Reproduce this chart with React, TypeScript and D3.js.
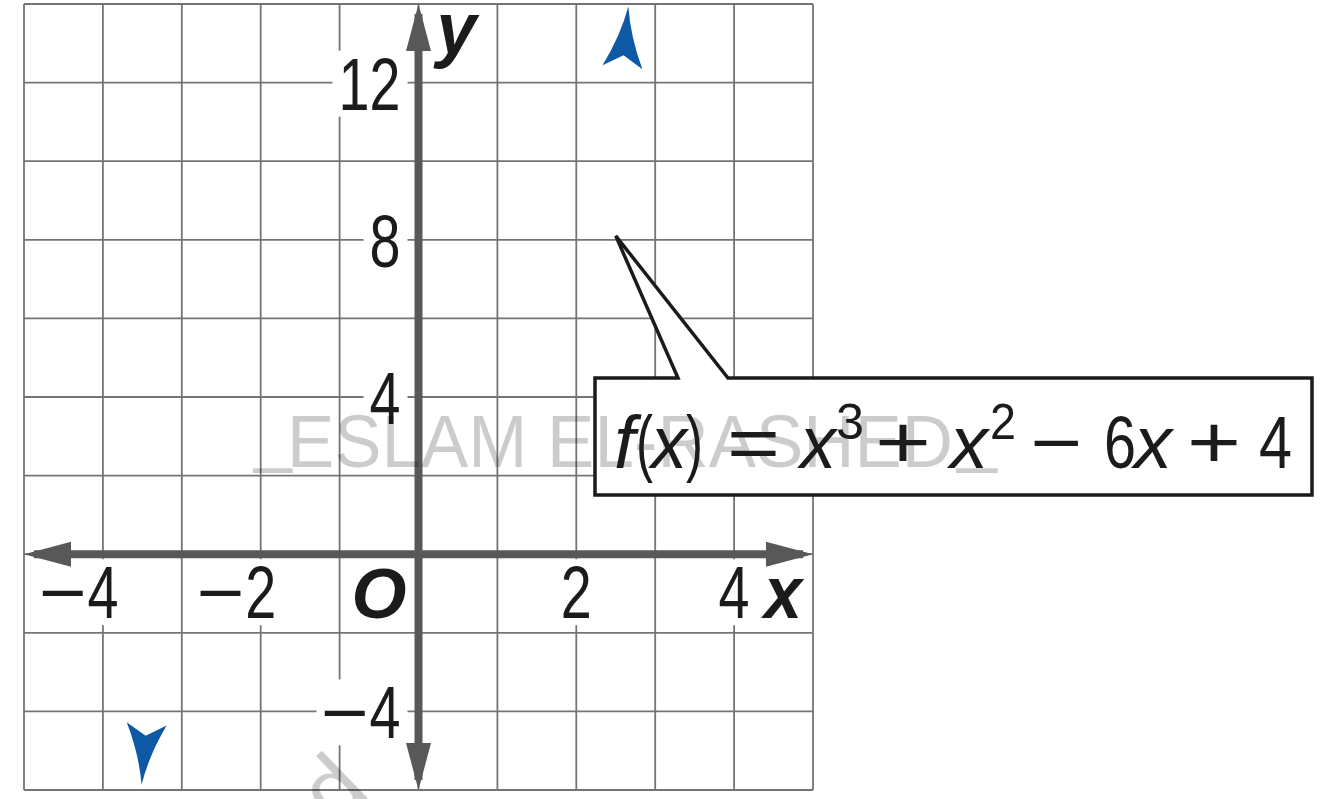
import React from 'react';
import * as d3 from 'd3';

// Canvas
const WIDTH = 1329;
const HEIGHT = 799;

// Coordinate plane
const X_DOMAIN: [number, number] = [-5, 5];
const Y_DOMAIN: [number, number] = [-6, 14];
const X_GRID_STEP = 1;
const Y_GRID_STEP = 2;
const X_TICK_LABELS = [-4, -2, 2, 4];
const Y_TICK_LABELS = [-4, 4, 8, 12];

// f(x) = x^3 + x^2 - 6x + 4 (highest power first)
const F_COEFFS = [1, 1, -6, 4];
// x-values where the end-behaviour arrowheads sit on the curve
const END_BEHAVIOR_X = [-3.51, 2.66];
// point the callout pointer aims at
const CALLOUT_TARGET = { x: 2.5, y: 8.1 };

const WATERMARK = 'ESLAM EL-RASHED';
const WATERMARK_TAIL = 'ed';

const f = (x: number) => F_COEFFS.reduce((acc, c) => acc * x + c, 0);
const df = (x: number) => {
  const n = F_COEFFS.length - 1;
  return F_COEFFS.slice(0, n).reduce((acc, c, i) => acc * x + c * (n - i), 0);
};

const FONT = '"Liberation Sans", Arial, sans-serif';
const GRID_COLOR = '#747474';
const AXIS_COLOR = '#585858';
const INK = '#1b1b1b';
const BLUE = '#0d59a6';

const DIGIT_W = 31;
const DIGIT_H = 53;
const FS = 74;

export default function App() {
  const xs = d3.scaleLinear().domain(X_DOMAIN).range([24, 813]);
  const ys = d3.scaleLinear().domain(Y_DOMAIN).range([790, 4]);
  const gridX = d3.range(X_DOMAIN[0], X_DOMAIN[1] + 1e-6, X_GRID_STEP);
  const gridY = d3.range(Y_DOMAIN[0], Y_DOMAIN[1] + 1e-6, Y_GRID_STEP);
  const x0 = xs(0);
  const y0 = ys(0);
  const xL = xs(X_DOMAIN[0]);
  const xR = xs(X_DOMAIN[1]);
  const yT = ys(Y_DOMAIN[1]);
  const yB = ys(Y_DOMAIN[0]);

  // tick label geometry: digits are centred on the tick (x) or right-aligned to the axis (y)
  const makeLabel = (v: number, axis: 'x' | 'y') => {
    const digits = String(Math.abs(v));
    const n = digits.length;
    const w = n * DIGIT_W;
    const baseline = axis === 'x' ? y0 + 64 : ys(v) + 27;
    const digitsX = axis === 'x' ? xs(v) - w / 2 : x0 - 18 - w;
    const neg = v < 0;
    const minusX = digitsX - 49;
    const left = (neg ? minusX + 2 : digitsX) - 6;
    const right = digitsX + w + 7;
    return { v, digits, w, baseline, digitsX, neg, minusX, left, right, top: baseline - DIGIT_H - 6, bottom: baseline + 7 };
  };
  const labels = [
    ...X_TICK_LABELS.map((v) => makeLabel(v, 'x')),
    ...Y_TICK_LABELS.map((v) => makeLabel(v, 'y')),
  ];

  // axis arrowheads
  const AH_LEN = 47;
  const AH_HALF = 12.5;
  const axisHeads = [
    `M${xL},${y0} L${xL + AH_LEN},${y0 - AH_HALF} L${xL + AH_LEN},${y0 + AH_HALF} Z`,
    `M${xR},${y0} L${xR - AH_LEN},${y0 - AH_HALF} L${xR - AH_LEN},${y0 + AH_HALF} Z`,
    `M${x0},${yT} L${x0 - AH_HALF},${yT + AH_LEN} L${x0 + AH_HALF},${yT + AH_LEN} Z`,
    `M${x0},${yB} L${x0 - AH_HALF},${yB - AH_LEN} L${x0 + AH_HALF},${yB - AH_LEN} Z`,
  ];

  // end-behaviour arrowheads, oriented along the curve's tangent in pixel space
  const kx = xs(1) - xs(0);
  const ky = ys(0) - ys(1);
  const endArrows = END_BEHAVIOR_X.map((xv) => {
    const dir = xv < 0 ? -1 : 1;
    const dx = dir * kx;
    const dy = -dir * df(xv) * ky;
    const angle = (Math.atan2(dy, dx) * 180) / Math.PI;
    return { x: xs(xv), y: ys(f(xv)), angle };
  });
  const stealth = 'M0,0 Q-30,-5 -61,-20 L-49,0 L-61,20 Q-30,5 0,0 Z';

  // callout
  const box = { l: 595, t: 378, r: 1312, b: 495 };
  const tip = { x: xs(CALLOUT_TARGET.x), y: ys(CALLOUT_TARGET.y) };
  const calloutPath = `M${box.l},${box.t} L678,${box.t} L${tip.x},${tip.y} L728,${box.t} L${box.r},${box.t} L${box.r},${box.b} L${box.l},${box.b} Z`;

  const eqBase = 468;
  const supBase = 439;
  const eq: any[] = [
    { t: 'f', x: 614, len: 21, it: true },
    { t: '(', x: 636, len: 17 },
    { t: 'x', x: 651, len: 36, it: true },
    { t: ')', x: 686, len: 17 },
    { t: '=', x: 727, len: 53 },
    { t: 'x', x: 800, len: 36, it: true },
    { t: '3', x: 836, len: 28, sup: true },
    { t: '+', x: 875, len: 56 },
    { t: 'x', x: 950, len: 38, it: true },
    { t: '2', x: 990, len: 26, sup: true },
    { t: '\u2212', x: 1030, len: 52 },
    { t: '6', x: 1104, len: 32 },
    { t: 'x', x: 1134, len: 38, it: true },
    { t: '+', x: 1187, len: 54 },
    { t: '4', x: 1259, len: 33 },
  ];

  return (
    <svg
      width={WIDTH}
      height={HEIGHT}
      viewBox={`0 0 ${WIDTH} ${HEIGHT}`}
      style={{ position: 'fixed', left: 0, top: 0, background: '#fff', display: 'block' }}
    >
      <rect x={0} y={0} width={WIDTH} height={HEIGHT} fill="#fff" />

      {/* grid */}
      <g stroke={GRID_COLOR} strokeWidth={1.8}>
        {gridX.map((v) => (
          <line key={`gx${v}`} x1={xs(v)} x2={xs(v)} y1={yT} y2={yB} />
        ))}
        {gridY.map((v) => (
          <line key={`gy${v}`} x1={xL} x2={xR} y1={ys(v)} y2={ys(v)} />
        ))}
      </g>

      {/* white boxes behind tick labels */}
      <g fill="#fff">
        {labels.map((L) => (
          <rect key={`bg${L.v}${L.baseline}`} x={L.left} y={L.top} width={L.right - L.left} height={L.bottom - L.top} />
        ))}
      </g>

      {/* axes */}
      <g stroke={AXIS_COLOR} strokeWidth={8}>
        <line x1={xL + 10} x2={xR - 10} y1={y0} y2={y0} />
        <line x1={x0} x2={x0} y1={yT + 10} y2={yB - 10} />
      </g>
      <g fill={AXIS_COLOR}>
        {axisHeads.map((d, i) => (
          <path key={`ah${i}`} d={d} />
        ))}
      </g>

      {/* tick labels */}
      <g fontFamily={FONT} fontSize={FS} fill={INK}>
        {labels.map((L) => (
          <g key={`lb${L.v}${L.baseline}`}>
            {L.neg && (
              <text x={L.minusX} y={L.baseline} textLength={48} lengthAdjust="spacingAndGlyphs">
                {'\u2212'}
              </text>
            )}
            <text x={L.digitsX} y={L.baseline} textLength={L.w} lengthAdjust="spacingAndGlyphs">
              {L.digits}
            </text>
          </g>
        ))}
      </g>

      {/* axis names and origin */}
      <g fontFamily={FONT} fill={INK} fontWeight="bold" fontStyle="italic">
        <text x={xR - 49} y={y0 + 64} fontSize={74} textLength={38} lengthAdjust="spacingAndGlyphs">x</text>
        <text x={x0 + 18} y={54} fontSize={74} textLength={40} lengthAdjust="spacingAndGlyphs">y</text>
        <text x={x0 - 67} y={y0 + 64} fontSize={70} textLength={55} lengthAdjust="spacingAndGlyphs">O</text>
      </g>

      {/* end-behaviour arrowheads */}
      <g fill={BLUE}>
        {endArrows.map((a, i) => (
          <path key={`ea${i}`} d={stealth} transform={`translate(${a.x},${a.y}) rotate(${a.angle})`} />
        ))}
      </g>

      {/* callout with the function */}
      <path d={calloutPath} fill="#fff" stroke={INK} strokeWidth={3.5} strokeLinejoin="miter" />

      {/* watermark */}
      <g fontFamily={FONT} fill="#000" opacity={0.2}>
        <text x={287} y={eqBase - 1} fontSize={74} textLength={666} lengthAdjust="spacingAndGlyphs">
          {WATERMARK}
        </text>
        <text x={254} y={eqBase - 10} fontSize={74} textLength={38} lengthAdjust="spacingAndGlyphs">_</text>
        <text x={957} y={eqBase - 10} fontSize={74} textLength={40} lengthAdjust="spacingAndGlyphs">_</text>
        <text transform="translate(372,794) rotate(-44)" fontSize={90} textAnchor="end">
          {WATERMARK_TAIL}
        </text>
      </g>

      <g fontFamily={FONT} fill={INK}>
        {eq.map((p: any, i: number) => (
          <text
            key={`eq${i}`}
            x={p.x}
            y={p.sup ? supBase : eqBase}
            fontSize={p.sup ? 50 : FS}
            fontStyle={p.it ? 'italic' : 'normal'}
            textLength={p.len}
            lengthAdjust="spacingAndGlyphs"
          >
            {p.t}
          </text>
        ))}
      </g>
    </svg>
  );
}
